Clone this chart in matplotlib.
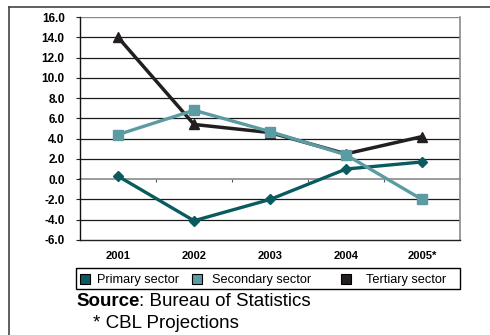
"""
Sector growth chart: primary, secondary and tertiary sectors 2001-2005
"""

import matplotlib
matplotlib.use('Agg')
import matplotlib.pyplot as plt
from matplotlib.lines import Line2D
from matplotlib.patches import Rectangle

plt.rcParams['font.family'] = ['Liberation Sans', 'DejaVu Sans']

years = ['2001', '2002', '2003', '2004', '2005*']
primary = [0.3, -4.1, -2.0, 1.0, 1.7]
secondary = [4.4, 6.8, 4.7, 2.4, -2.0]
tertiary = [14.0, 5.4, 4.6, 2.5, 4.2]
yticks = [-6, -4, -2, 0, 2, 4, 6, 8, 10, 12, 14, 16]
series_names = ['Primary sector', 'Secondary sector', 'Tertiary sector']

c_primary = '#0a5b5f'
c_secondary = '#5a9ca2'
c_tertiary = '#231f20'

W, H = 490, 335
fig = plt.figure(figsize=(W / 100, H / 100), dpi=100)
ax = fig.add_axes([80 / W, 1 - 240 / H, 380 / W, 223 / H])

x = list(range(len(years)))
ax.plot(x, primary, color=c_primary, lw=2.4, marker='D', ms=5.5, zorder=4)
ax.plot(x, secondary, color=c_secondary, lw=2.4, marker='s', ms=7, zorder=4)
ax.plot(x, tertiary, color=c_tertiary, lw=2.5, marker='^', ms=7.5, zorder=3)

ax.set_xlim(-0.5, len(years) - 0.5)
ax.set_ylim(-6, 16)
ax.set_yticks(yticks)
ax.set_yticklabels(['%.1f' % v for v in yticks], fontsize=8.5, fontweight='bold')
ax.set_xticks(x)
ax.set_xticklabels(years, fontsize=8, fontweight='bold')
ax.tick_params(axis='x', length=0, pad=8)
ax.tick_params(axis='y', length=3, width=0.8, color='#222222', pad=8)

# horizontal grid, zero line drawn separately in grey
for v in yticks:
    if v in (0, -6, 16):
        continue
    ax.axhline(v, color='#1a1a1a', lw=0.9, zorder=1)
ax.axhline(16, color='#8a8a8a', lw=1.0, zorder=1)

# category axis crossing at zero with small boundary ticks
zero_axis = ax.secondary_xaxis(6 / 22)
zero_axis.set_xticks([i + 0.5 for i in x[:-1]])
zero_axis.set_xticklabels([])
zero_axis.tick_params(direction='out', length=2.5, width=0.8, color='#555555')
zero_axis.spines['bottom'].set_color('#8a8a8a')
zero_axis.spines['bottom'].set_linewidth(1.2)

ax.spines['left'].set_color('#111111')
ax.spines['left'].set_linewidth(1.0)
ax.spines['bottom'].set_color('#222222')
ax.spines['bottom'].set_linewidth(1.0)
ax.spines['right'].set_color('#8a8a8a')
ax.spines['right'].set_linewidth(1.2)
ax.spines['top'].set_visible(False)

# legend box laid out by hand (Excel-style spacing)
fig.add_artist(Rectangle((76 / W, 1 - 289 / H), 384 / W, 21 / H, transform=fig.transFigure,
                         fill=False, edgecolor='black', lw=1.0))
leg_y = 1 - 278.5 / H
for name, color, sq_x, txt_x in zip(series_names, [c_primary, c_secondary, c_tertiary],
                                    [85, 197, 346], [97, 212, 366]):
    fig.add_artist(Line2D([sq_x / W], [leg_y], ls='none', marker='s', ms=7,
                          mfc=color, mec='black', mew=0.8))
    fig.text(txt_x / W, leg_y, name, fontsize=9.2, va='center_baseline')

# source note: bold word followed by regular text
src_y = 1 - 302 / H
src = fig.text(76 / W, src_y, 'Source', fontsize=13.5, fontweight='bold', va='center')
renderer = fig.canvas.get_renderer()
src_w = src.get_window_extent(renderer).width / fig.bbox.width
fig.text(76 / W + src_w, src_y, ': Bureau of Statistics', fontsize=13.5, va='center')
fig.text(93 / W, 1 - 323 / H, '* CBL Projections', fontsize=13.5, va='center')

# outer frame around the chart
fig.add_artist(Line2D([9 / W, 9 / W], [0, 1 - 7 / H], color='#444444', lw=1.2))
fig.add_artist(Line2D([9 / W, 1], [1 - 7 / H, 1 - 7 / H], color='#444444', lw=1.2))

fig.savefig('out.png', dpi=100)
